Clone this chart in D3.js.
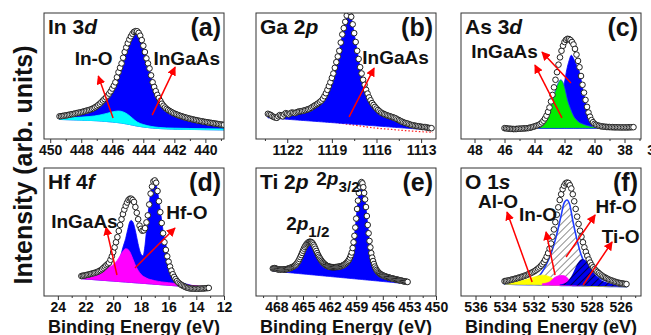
<!DOCTYPE html>
<html>
<head>
<meta charset="utf-8">
<script src="https://cdn.jsdelivr.net/npm/d3@7"></script>
<style>
body { margin: 0; background: #fff; }
svg { display: block; font-family: "Liberation Sans", Arial, sans-serif; }
.tick text { font-family: "Liberation Sans Narrow", "Liberation Sans", Arial, sans-serif; font-weight: bold; font-size: 14px; fill: #111; }
.tick line { stroke: #333; }
</style>
</head>
<body>
<div id="chart"></div>
<script>
// ---- data (intensity in % of panel height) ----

// (a) In 3d, 0.1 eV steps
const in3dStart = 449.4, in3dStep = -0.1;
const in3dCounts = [18, 18.1, 18.3, 18.5, 18.7, 18.9, 19.2, 19.4, 19.7, 19.9, 20.2, 20.5, 20.8, 21, 21.3, 21.6, 22, 22.3, 22.7, 23,
  23.4, 23.9, 24.5, 25.2, 26, 27, 28, 29.2, 30.5, 31.7, 33, 34.4, 36, 37.8, 40, 42.3, 45, 49, 53, 56.5,
  60, 64.5, 69, 72.7, 76, 79, 81.5, 83.5, 85, 85.6, 85.5, 84.2, 82, 78.5, 74, 69, 64, 60, 56, 50.5,
  45, 41.3, 38, 35, 32.5, 30.2, 28, 26.4, 25, 23.9, 23, 22.2, 21.5, 20.8, 20.2, 19.7, 19.2, 18.7, 18.3, 17.9,
  17.5, 17.1, 16.8, 16.4, 16.1, 15.8, 15.5, 15.2, 15, 14.7, 14.4, 14.2, 14, 13.7, 13.5, 13.3, 13.1, 12.9, 12.7, 12.5,
  12.3, 12.1, 11.9, 11.7, 11.5, 11.3, 11.2];
const in3dBg = [[449.4, 15.5], [448, 15], [447, 14.5], [446, 13.5], [445.5, 12.8], [445, 11.8], [444.5, 10.5],
  [444, 9.5], [443.5, 8.8], [443, 8.3], [442, 7.8], [440, 7.4], [438.8, 7.2]];
const in3dInO = [[449.4, 16.5], [448.5, 17], [447.5, 17.8], [446.8, 19], [446.3, 20.5], [445.9, 21.8], [445.6, 22.2],
  [445.3, 21.5], [445, 19.5], [444.7, 16.5], [444.4, 13.5], [444, 11.5], [443.5, 10], [443, 9.2], [442, 8.6],
  [440, 8.2], [438.8, 8]];

// (b) Ga 2p
const ga2pStart = 1123.3, ga2pStep = -0.1;
const ga2pCounts = [20, 19.5, 19, 18, 17.5, 17, 16.8, 18, 19, 18.5, 18, 19.5, 20.5, 20, 19.5, 20.3, 21, 20.8, 20.5, 21,
  21.5, 21.8, 22, 22.2, 22.5, 22.8, 23.2, 23.6, 24, 24.7, 25.5, 26.2, 27, 27.7, 28.5, 29.5, 30.5, 32, 34, 36.3,
  39, 42, 45, 48.5, 52, 56.5, 61, 65.5, 70, 76.5, 83, 88, 93, 98, 102, 101, 97, 91, 84, 77,
  70, 63.5, 57, 52, 47, 43, 39, 36, 33, 30.7, 28.5, 27, 25.5, 24.2, 23, 22, 21, 20.4, 19.8, 19.3,
  18.8, 18.4, 18, 17.6, 17.2, 16.8, 16.3, 15.6, 15, 14.4, 13.8, 13.3, 12.8, 12.5, 12.2, 11.7, 11.3, 11, 10.8, 10.5,
  10.3, 10.2, 10, 9.7, 9.5, 9.5, 9.4, 9.1, 8.8, 8.7, 8.6];
const ga2pBg = [[1123.3, 16.8], [1112.2, 7]];
const ga2pRedBg = [[1119, 13.5], [1118, 11.8], [1117, 10.2], [1116, 8.6], [1115, 7.6], [1114, 6.6], [1113, 5.8], [1112.2, 5.3]];

// (c) As 3d
const as3dStart = 46.0, as3dStep = -0.1;
const as3dCounts = [8.6, 8.5, 8.3, 8.2, 8.1, 8, 7.9, 7.9, 8, 8.1, 8.2, 8.2, 8.3, 8.4, 8.5, 8.6, 8.7, 9, 9.3, 9.6,
  10, 10.4, 10.8, 11.3, 12, 13.1, 14.5, 16.3, 18.5, 21.5, 25, 29.8, 35, 41, 47, 53, 59, 64.8, 70, 74,
  77, 78.7, 79.5, 79.3, 78.5, 77, 75, 71.5, 67, 62, 57, 50, 43, 36.8, 31, 25.5, 21, 17.7, 15, 13.3,
  12, 11.3, 10.8, 10.5, 10.2, 10, 9.8, 9.7, 9.6, 9.5, 9.5, 9.4, 9.4, 9.3, 9.3, 9.3, 9.3, 9.2, 9.2, 9.2,
  9.2, 9.2, 9.2, 9.3, 9.3, 9.4, 9.4];
const as3dBg = [[46, 8.3], [37.4, 8.6]];
const as3dBlue = [[45.5, 8.4], [43.5, 9], [43, 10.5], [42.7, 14], [42.4, 22], [42.2, 32], [42, 45], [41.85, 55], [41.7, 62],
  [41.55, 66.5], [41.4, 64], [41.25, 60], [41.1, 56], [41.0, 53], [40.8, 41], [40.6, 29.5], [40.4, 20], [40.2, 15.5],
  [39.9, 12.5], [39.5, 10.8], [38.6, 9.6], [37.5, 9.2]];
const as3dGreen = [[44.5, 8.6], [43.9, 9.2], [43.5, 12], [43.2, 17], [43.0, 23], [42.8, 31], [42.6, 39], [42.4, 45],
  [42.25, 47], [42.1, 45], [41.95, 39], [41.8, 31], [41.6, 24], [41.4, 18.5], [41.1, 14], [40.7, 11.5], [40.3, 10.2],
  [39.5, 9.2], [38.5, 8.8]];

// (d) Hf 4f
const hf4fStart = 22.3, hf4fStep = -0.1;
const hf4fCounts = [15.6, 15.8, 16, 16.2, 16.5, 16.7, 17, 17.3, 17.6, 17.9, 18.2, 18.6, 19, 19.6, 20.2, 21, 22, 23, 24, 25,
  26, 28.3, 31, 34.3, 38, 42, 46, 50.8, 55.5, 60, 64, 67.5, 70.5, 73, 75, 76, 76, 75, 73.5, 69.5,
  65, 60, 55, 52.5, 51, 51.3, 53, 57.5, 63, 71.5, 80, 85.5, 89.5, 90.3, 88.5, 82, 74, 65.5, 57, 49,
  42, 36, 31, 26.8, 23, 19.8, 17, 14.9, 13.2, 11.7, 10.5, 9.6, 8.8, 8.2, 7.6, 7.1, 6.6, 6.3, 6, 5.9,
  5.8, 5.7, 5.7, 5.7, 5.7, 5.7, 5.8, 5.8, 5.9, 6, 6.1, 6.2, 6.3];
const hf4fBg = [[22.3, 13.5], [13.1, 6]];
const hf4fHfO = [[22.3, 14], [20.5, 17], [19.8, 22], [19.5, 30], [19.3, 38], [19.1, 45], [18.95, 52], [18.8, 58], [18.7, 59],
  [18.55, 57], [18.4, 51], [18.25, 43], [18.1, 36], [17.95, 32], [17.85, 31.5], [17.7, 40], [17.55, 57], [17.4, 72],
  [17.25, 84], [17.1, 90], [17.0, 89.5], [16.85, 84.5], [16.7, 75], [16.55, 63], [16.4, 51], [16.2, 40], [16.0, 30],
  [15.8, 23], [15.5, 15], [15.2, 11.5], [14.7, 9.3], [14, 7.6], [13.1, 6.6]];
const hf4fInGaAs = [[22.3, 15], [21.5, 17], [21, 19], [20.5, 21.5], [20, 24.5], [19.7, 28], [19.5, 31.5], [19.3, 35],
  [19.1, 37], [18.95, 36.5], [18.8, 34.5], [18.6, 29.5], [18.4, 24], [18.2, 20], [18, 17], [17.6, 14], [17, 12],
  [16.5, 11], [15.5, 9.8], [15, 9], [14, 8], [13.1, 7]];

// (e) Ti 2p
const ti2pStart = 468.4, ti2pStep = -0.1;
const ti2pCounts = [21.5, 21.6, 21.8, 21.5, 21.2, 21, 20.8, 20.6, 20.5, 20.6, 20.7, 20.8, 20.8, 20.7, 20.7, 20.9, 21.1, 21.3, 21.5, 21.8,
  22, 22.3, 22.6, 23, 23.4, 23.9, 24.5, 25.4, 26.4, 27.5, 28.9, 30.4, 32, 33.7, 35.4, 37, 38.4, 39.5, 40.5, 41.3,
  41.9, 42.3, 42.4, 42.2, 41.8, 41, 39.8, 38.5, 36.9, 35.2, 33.5, 32, 30.7, 29.5, 28.4, 27.4, 26.5, 25.8, 25.1, 24.5,
  24, 23.6, 23.3, 23, 22.8, 22.7, 22.6, 22.5, 22.5, 22.5, 22.5, 22.6, 22.7, 22.7, 22.8, 23, 23.1, 23.3, 23.6, 23.9,
  24.2, 24.7, 25.2, 25.8, 26.6, 27.5, 28.5, 30, 31.8, 34, 37.5, 42, 47, 53.5, 60.5, 68, 74.5, 80.5, 85.5, 88,
  89, 88, 85, 80.5, 75.5, 69.5, 62.5, 55.5, 49, 43, 38, 33.5, 30, 27.3, 25, 23, 21.5, 20.3, 19.3, 18.5,
  17.9, 17.3, 16.8, 16.4, 16.1, 15.8, 15.5, 15.2, 15, 14.8, 14.6, 14.4, 14.2, 14, 13.8, 13.6, 13.5, 13.3, 13.1, 13,
  12.8, 12.6, 12.5, 12.3, 12.1, 12, 11.8, 11.6, 11.5, 11.3, 11.2, 11.1, 11];
const ti2pBg = [[468.5, 19.5], [453.2, 9.5]];

// (f) O 1s
const o1sStart = 534.0, o1sStep = -0.1;
const o1sCounts = [11.6, 11.8, 12, 12.2, 12.5, 12.8, 13.1, 13.4, 13.7, 14, 14.4, 14.7, 15.1, 15.5, 15.9, 16.3, 16.8, 17.3, 17.8, 18.4,
  19, 19.7, 20.5, 21.4, 22.3, 23.5, 24.8, 26.4, 28.3, 30.7, 33.5, 37, 41, 46.3, 52, 57.7, 63.5, 69.3, 75, 79.5,
  83.5, 86.2, 88, 88.6, 88.3, 86.5, 84, 79.5, 74, 68, 62, 56.3, 51, 46.3, 42, 38, 34.5, 31.3, 28.5, 26.1,
  24, 22.4, 21, 19.8, 18.8, 17.8, 16.8, 16, 15.2, 14.6, 14, 13.4, 12.8, 12.4, 12, 11.6, 11.2, 10.8, 10.5, 10.2,
  10, 9.8, 9.6, 9.4, 9.3];
const o1sBg = [[534, 9.3], [525.6, 7.2]];
const o1sHfO = [[534, 9.8], [533.2, 11], [532.3, 12.3], [531.6, 16], [531.15, 24], [530.8, 33], [530.45, 46], [530.1, 63],
  [529.9, 72.5], [529.7, 75], [529.5, 71], [529.3, 59], [529.05, 46], [528.75, 33], [528.4, 24], [527.95, 17.5],
  [527.25, 12.8], [526.3, 10.2], [525.6, 9.5]];
const o1sAlO = [[534, 10], [533.2, 11], [532.5, 12.8], [531.9, 15], [531.4, 16.3], [530.9, 15], [530.5, 12], [530, 9.7],
  [529.1, 8.4], [527.7, 7.9], [525.6, 7.6]];
const o1sInO = [[531.4, 9.5], [530.9, 11], [530.6, 14], [530.3, 15.7], [530.0, 16], [529.75, 15], [529.55, 12.5],
  [529.2, 10], [528.8, 9.2]];
const o1sTiO = [[530.2, 9], [529.7, 11], [529.3, 17.5], [529.0, 25], [528.65, 29], [528.3, 26.7], [527.95, 20],
  [527.5, 13.6], [526.8, 10.2], [525.6, 9]];

// axis ticks
const ticksA = [450, 448, 446, 444, 442, 440], minorA = [449, 447, 445, 443, 441, 439];
const ticksB = [1122, 1119, 1116, 1113], minorB = [1123.5, 1120.5, 1117.5, 1114.5];
const ticksC = [48, 46, 44, 42, 40, 38, 36], minorC = [47, 45, 43, 41, 39, 37];
const ticksD = [24, 22, 20, 18, 16, 14, 12], minorD = [23, 21, 19, 17, 15, 13];
const ticksE = [468, 465, 462, 459, 456, 453, 450], minorE = [469.5, 466.5, 463.5, 460.5, 457.5, 454.5, 451.5];
const ticksF = [536, 534, 532, 530, 528, 526], minorF = [535, 533, 531, 529, 527, 525];

// ---- layout ----
const W = 651, H = 335;
const cols = [44, 256, 461], rows = [13, 168];
const PW = 180, PH = [126, 128];

const toPts = (start, step, vals) => vals.map((v, i) => [start + i * step, v]);

const panels = [
  { id: 'a', col: 0, row: 0, domain: [450.4, 438.8], major: ticksA, minor: minorA,
    pts: toPts(in3dStart, in3dStep, in3dCounts), bg: in3dBg,
    fills: [{ data: 'env', fill: '#0000ff' }, { data: in3dInO, fill: '#00ffff' }],
    title: [['In 3', ''], ['d', 'i']], tag: '(a)',
    labels: [{ parts: [['In-O', '']], E: 447.2, v: 58.7 }, { parts: [['InGaAs', '']], E: 441.2, v: 58.7 }],
    arrows: [[445.95, 16.7, 446.9, 50], [443.43, 19, 441.95, 57]] },
  { id: 'b', col: 1, row: 0, domain: [1124.1, 1112], major: ticksB, minor: minorB,
    pts: toPts(ga2pStart, ga2pStep, ga2pCounts), bg: ga2pBg, redBg: ga2pRedBg,
    fills: [{ data: 'env', fill: '#0000ff' }],
    title: [['Ga 2', ''], ['p', 'i']], tag: '(b)',
    labels: [{ parts: [['InGaAs', '']], E: 1114.72, v: 59.5 }],
    arrows: [[1117.84, 17.5, 1116.16, 56.3]] },
  { id: 'c', col: 2, row: 0, domain: [48.9, 36.9], major: ticksC, minor: minorC,
    pts: toPts(as3dStart, as3dStep, as3dCounts), bg: as3dBg,
    fills: [{ data: as3dBlue, fill: '#0000ff' }, { data: as3dGreen, fill: '#00ee00', stroke: '#1a3cff' }],
    title: [['As 3', ''], ['d', 'i']], tag: '(c)',
    labels: [{ parts: [['InGaAs', '']], E: 46.0, v: 64.3 }],
    arrows: [[42.17, 16.7, 43.97, 58.7], [41.57, 44.4, 43.5, 69]] },
  { id: 'd', col: 0, row: 1, domain: [25, 12], major: ticksD, minor: minorD,
    pts: toPts(hf4fStart, hf4fStep, hf4fCounts), bg: hf4fBg,
    fills: [{ data: hf4fHfO, fill: '#0000ff' }, { data: hf4fInGaAs, fill: '#ff00ff' }],
    title: [['Hf 4', ''], ['f', 'i']], tag: '(d)',
    labels: [{ parts: [['InGaAs', '']], E: 22.08, v: 53.1 }, { parts: [['Hf-O', '']], E: 14.68, v: 60.2 }],
    arrows: [[19.73, 16.4, 20.52, 53.9], [18.43, 21.9, 15.54, 53.1]] },
  { id: 'e', col: 1, row: 1, domain: [470.3, 450], major: ticksE, minor: minorE,
    pts: toPts(ti2pStart, ti2pStep, ti2pCounts), bg: ti2pBg,
    fills: [{ data: 'env', fill: '#0000ff' }],
    title: [['Ti 2', ''], ['p', 'i']], tag: '(e)',
    labels: [{ parts: [['2', ''], ['p', 'i'], ['3/2', 'sub']], E: 463.5, v: 86.7, anchor: 'start' },
             { parts: [['2', ''], ['p', 'i'], ['1/2', 'sub']], E: 466.9, v: 51.6, anchor: 'start' }],
    arrows: [] },
  { id: 'f', col: 2, row: 1, domain: [537, 524.6], major: ticksF, minor: minorF,
    pts: toPts(o1sStart, o1sStep, o1sCounts), bg: o1sBg,
    fills: [{ data: o1sHfO, fill: 'url(#hatchHf)', stroke: '#1f3cff', sw: 1.6 },
            { data: o1sAlO, fill: '#ffff00' },
            { data: o1sInO, fill: '#ff00ff' },
            { data: o1sTiO, fill: 'url(#hatchTi)' }],
    title: [['O 1', ''], ['s', 'i']], tag: '(f)',
    labels: [{ parts: [['Al-O', '']], E: 534.45, v: 68.75 }, { parts: [['In-O', '']], E: 531.69, v: 58.6 },
             { parts: [['Hf-O', '']], E: 526.31, v: 64.8 }, { parts: [['Ti-O', '']], E: 526.0, v: 41.4 }],
    arrows: [[532.1, 10.9, 533.83, 65.6], [530.52, 16.4, 531.14, 50], [529.76, 30.5, 527.76, 63.3], [528.59, 8.6, 526.59, 42.2]] }
];

// ---- drawing ----
const svg = d3.select('#chart').append('svg').attr('width', W).attr('height', H);
const defs = svg.append('defs');

defs.append('marker')
    .attr('id', 'arrow')
    .attr('viewBox', '0 0 10 10')
    .attr('refX', 9).attr('refY', 5)
    .attr('markerWidth', 6).attr('markerHeight', 6)
    .attr('orient', 'auto')
    .append('path').attr('d', 'M0,0L10,5L0,10z').attr('fill', '#ff0000');

// hatch patterns for O 1s components
const hf = defs.append('pattern').attr('id', 'hatchHf').attr('patternUnits', 'userSpaceOnUse')
    .attr('width', 5).attr('height', 5).attr('patternTransform', 'rotate(45)');
hf.append('rect').attr('width', 5).attr('height', 5).attr('fill', '#fff');
hf.append('line').attr('x1', 0).attr('y1', 0).attr('x2', 0).attr('y2', 5).attr('stroke', '#444').attr('stroke-width', 1.2);
const ti = defs.append('pattern').attr('id', 'hatchTi').attr('patternUnits', 'userSpaceOnUse')
    .attr('width', 5).attr('height', 5).attr('patternTransform', 'rotate(45)');
ti.append('rect').attr('width', 5).attr('height', 5).attr('fill', '#0000ee');
ti.append('line').attr('x1', 0).attr('y1', 0).attr('x2', 0).attr('y2', 5).attr('stroke', '#000').attr('stroke-width', 1.3);

function addParts(text, parts, size) {
    parts.forEach(([t, s]) => {
        const ts = text.append('tspan').text(t);
        if (s === 'i') ts.attr('font-style', 'italic');
        if (s === 'sub') ts.attr('font-size', size * 0.8).attr('dy', size * 0.35);
    });
}

panels.forEach(p => {
    const w = PW, h = PH[p.row];
    const g = svg.append('g').attr('transform', `translate(${cols[p.col]},${rows[p.row]})`);
    const x = d3.scaleLinear().domain(p.domain).range([0, w]);
    const y = d3.scaleLinear().domain([0, 100]).range([h, 0]);
    const bg = d3.scaleLinear().domain(p.bg.map(d => d[0])).range(p.bg.map(d => d[1]));

    defs.append('clipPath').attr('id', 'clip-' + p.id)
        .append('rect').attr('width', w).attr('height', h);
    const plot = g.append('g').attr('clip-path', `url(#clip-${p.id})`);

    const area = d3.area()
        .x(d => x(d[0]))
        .y0(d => y(bg(d[0])))
        .y1(d => y(d[1]))
        .curve(d3.curveMonotoneX);

    if (p.redBg) {
        plot.append('path').datum(p.redBg)
            .attr('d', d3.line().x(d => x(d[0])).y(d => y(d[1])).curve(d3.curveMonotoneX))
            .attr('fill', 'none').attr('stroke', '#ff2020').attr('stroke-width', 1.2)
            .attr('stroke-dasharray', '1.5,2');
    }

    p.fills.forEach(f => {
        const data = f.data === 'env' ? p.pts : f.data;
        const isPattern = f.fill.startsWith('url');
        plot.append('path').datum(data)
            .attr('d', area)
            .attr('fill', f.fill)
            .attr('stroke', f.stroke || (isPattern ? 'none' : f.fill))
            .attr('stroke-width', f.sw || 0.8);
    });

    // measured points
    plot.append('g').selectAll('circle').data(p.pts).join('circle')
        .attr('cx', d => x(d[0]))
        .attr('cy', d => y(d[1]))
        .attr('r', 2.8)
        .attr('fill', '#fff')
        .attr('stroke', '#222')
        .attr('stroke-width', 1);

    // axes
    const ax = g.append('g').attr('transform', `translate(0,${h})`)
        .call(d3.axisBottom(x).tickValues(p.major).tickSize(4).tickPadding(2).tickFormat(d3.format('d')));
    ax.select('.domain').remove();
    const axm = g.append('g').attr('transform', `translate(0,${h})`)
        .call(d3.axisBottom(x).tickValues(p.minor).tickSize(2).tickFormat(''));
    axm.select('.domain').remove();

    g.append('rect').attr('width', w).attr('height', h)
        .attr('fill', 'none').attr('stroke', '#333').attr('stroke-width', 1);

    // arrows
    g.selectAll('line.arr').data(p.arrows).join('line')
        .attr('class', 'arr')
        .attr('x1', d => x(d[0])).attr('y1', d => y(d[1]))
        .attr('x2', d => x(d[2])).attr('y2', d => y(d[3]))
        .attr('stroke', '#ff0000').attr('stroke-width', 1.5)
        .attr('marker-end', 'url(#arrow)');

    // peak labels
    p.labels.forEach(l => {
        const t = g.append('text')
            .attr('x', x(l.E)).attr('y', y(l.v))
            .attr('text-anchor', l.anchor || 'middle')
            .attr('font-size', 19).attr('font-weight', 'bold').attr('fill', '#111');
        addParts(t, l.parts, 19);
    });

    // title and tag
    const tt = g.append('text').attr('x', 4).attr('y', 21)
        .attr('font-size', 21).attr('font-weight', 'bold').attr('fill', '#111');
    addParts(tt, p.title, 21);
    g.append('text').attr('x', w - 3).attr('y', 23).attr('text-anchor', 'end')
        .attr('font-size', 25).attr('font-weight', 'bold').attr('fill', '#111').text(p.tag);

    if (p.row === 1) {
        svg.append('text')
            .attr('x', cols[p.col] + w / 2).attr('y', 333)
            .attr('text-anchor', 'middle')
            .attr('font-size', 18).attr('font-weight', 'bold').attr('fill', '#111')
            .text('Binding Energy (eV)');
    }
});

svg.append('text')
    .attr('transform', 'translate(32,165) rotate(-90)')
    .attr('text-anchor', 'middle')
    .attr('font-size', 25).attr('font-weight', 'bold').attr('fill', '#111')
    .text('Intensity (arb. units)');
</script>
</body>
</html>
